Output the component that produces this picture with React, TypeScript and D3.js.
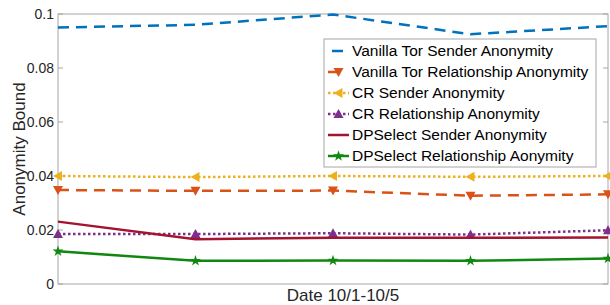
import React from 'react';
import * as d3 from 'd3';

// days 10/1 .. 10/5 (no tick labels shown on the x axis)
const days = [1, 2, 3, 4, 5];

const vanillaSender = [0.095, 0.096, 0.0998, 0.0925, 0.0955];
const vanillaRelationship = [0.0348, 0.0345, 0.0346, 0.0327, 0.0332];
const crSender = [0.04, 0.0396, 0.04, 0.0397, 0.04];
const crRelationship = [0.0185, 0.0185, 0.0188, 0.0183, 0.0199];
const dpSender = [0.0231, 0.0166, 0.0171, 0.0171, 0.0172];
const dpRelationship = [0.0121, 0.0086, 0.0087, 0.0086, 0.0094];

const yTicks = [0, 0.02, 0.04, 0.06, 0.08, 0.1];
const yTickLabels = ['0', '0.02', '0.04', '0.06', '0.08', '0.1'];

const seriesNames = [
  'Vanilla Tor Sender Anonymity',
  'Vanilla Tor Relationship Anonymity',
  'CR Sender Anonymity',
  'CR Relationship Anonymity',
  'DPSelect Sender Anonymity',
  'DPSelect Relationship Aonymity',
];

type Marker = 'none' | 'down' | 'left' | 'up' | 'star';

const series = [
  { name: seriesNames[0], values: vanillaSender, color: '#0072BD', dash: '11 7', marker: 'none' as Marker },
  { name: seriesNames[1], values: vanillaRelationship, color: '#D95319', dash: '11 7', marker: 'down' as Marker },
  { name: seriesNames[2], values: crSender, color: '#EDB120', dash: '2.5 2.5', marker: 'left' as Marker },
  { name: seriesNames[3], values: crRelationship, color: '#7E2F8E', dash: '2.5 2.5', marker: 'up' as Marker },
  { name: seriesNames[4], values: dpSender, color: '#A2142F', dash: '', marker: 'none' as Marker },
  { name: seriesNames[5], values: dpRelationship, color: '#108810', dash: '', marker: 'star' as Marker },
];

const W = 610, H = 305;
const margin = { top: 14, right: 2, bottom: 21, left: 58 };
const FONT = '"Liberation Sans", Arial, Helvetica, sans-serif';

function MarkerShape({ type, x, y, color }: { type: Marker; x: number; y: number; color: string }) {
  const s = 5;
  if (type === 'down') return <path d={`M${x - s},${y - s * 0.8}L${x + s},${y - s * 0.8}L${x},${y + s}Z`} fill={color} />;
  if (type === 'up') return <path d={`M${x - s},${y + s * 0.8}L${x + s},${y + s * 0.8}L${x},${y - s}Z`} fill={color} />;
  if (type === 'left') return <path d={`M${x + s * 0.8},${y - s}L${x + s * 0.8},${y + s}L${x - s},${y}Z`} fill={color} />;
  if (type === 'star') {
    const p = d3.symbol().type(d3.symbolStar).size(38)();
    return <path d={p || ''} transform={`translate(${x},${y})`} fill={color} />;
  }
  return null;
}

export default function App() {
  const x = d3.scaleLinear().domain([1, 5]).range([margin.left, W - margin.right]);
  const y = d3.scaleLinear().domain([0, 0.1]).range([H - margin.bottom, margin.top]);
  const line = d3.line<number>().x((_, i) => x(days[i])).y(d => y(d));

  const axisColor = '#a6a6a6';
  const legend = { x: 324, y: 39, w: 272, h: 128, row: 21 };

  return (
    <svg width={W} height={H} style={{ position: 'absolute', left: 0, top: 0, background: '#fff' }} fontFamily={FONT}>
      <rect x={0} y={0} width={W} height={H} fill="#fff" />
      {/* axes box */}
      <rect x={x(1)} y={y(0.1)} width={x(5) - x(1)} height={y(0) - y(0.1)} fill="none" stroke={axisColor} strokeWidth={1} />
      {yTicks.map((t, i) => (
        <g key={t}>
          <line x1={x(1)} x2={x(1) + 5} y1={y(t)} y2={y(t)} stroke={axisColor} />
          <line x1={x(5) - 5} x2={x(5)} y1={y(t)} y2={y(t)} stroke={axisColor} />
          <text x={x(1) - 4} y={y(t)} dy="0.35em" textAnchor="end" fontSize={14} fill="#262626">{yTickLabels[i]}</text>
        </g>
      ))}
      <text transform={`translate(25,${(y(0) + y(0.1)) / 2}) rotate(-90)`} textAnchor="middle" fontSize={17} fill="#262626">Anonymity Bound</text>
      <text x={343} y={301} textAnchor="middle" fontSize={17} fill="#262626">Date 10/1-10/5</text>

      {series.map(s => (
        <g key={s.name}>
          <path d={line(s.values) || ''} fill="none" stroke={s.color} strokeWidth={2.5} strokeDasharray={s.dash || undefined} />
          {s.values.map((v, i) => (
            <MarkerShape key={i} type={s.marker} x={x(days[i])} y={y(v)} color={s.color} />
          ))}
        </g>
      ))}

      {/* legend */}
      <rect x={legend.x} y={legend.y} width={legend.w} height={legend.h} fill="#fff" stroke={axisColor} />
      {series.map((s, i) => {
        const ly = legend.y + 12 + i * legend.row;
        return (
          <g key={s.name}>
            <line x1={legend.x + 4} x2={legend.x + 25} y1={ly} y2={ly} stroke={s.color} strokeWidth={2.5}
              strokeDasharray={s.dash === '11 7' ? (i === 0 ? '0 4 11 6' : '0 0 9 30') : s.dash || undefined} />
            <MarkerShape type={s.marker} x={legend.x + 14.5} y={ly} color={s.color} />
            <text x={legend.x + 28} y={ly} dy="0.35em" fontSize={15.5} fill="#000">{s.name}</text>
          </g>
        );
      })}
    </svg>
  );
}
